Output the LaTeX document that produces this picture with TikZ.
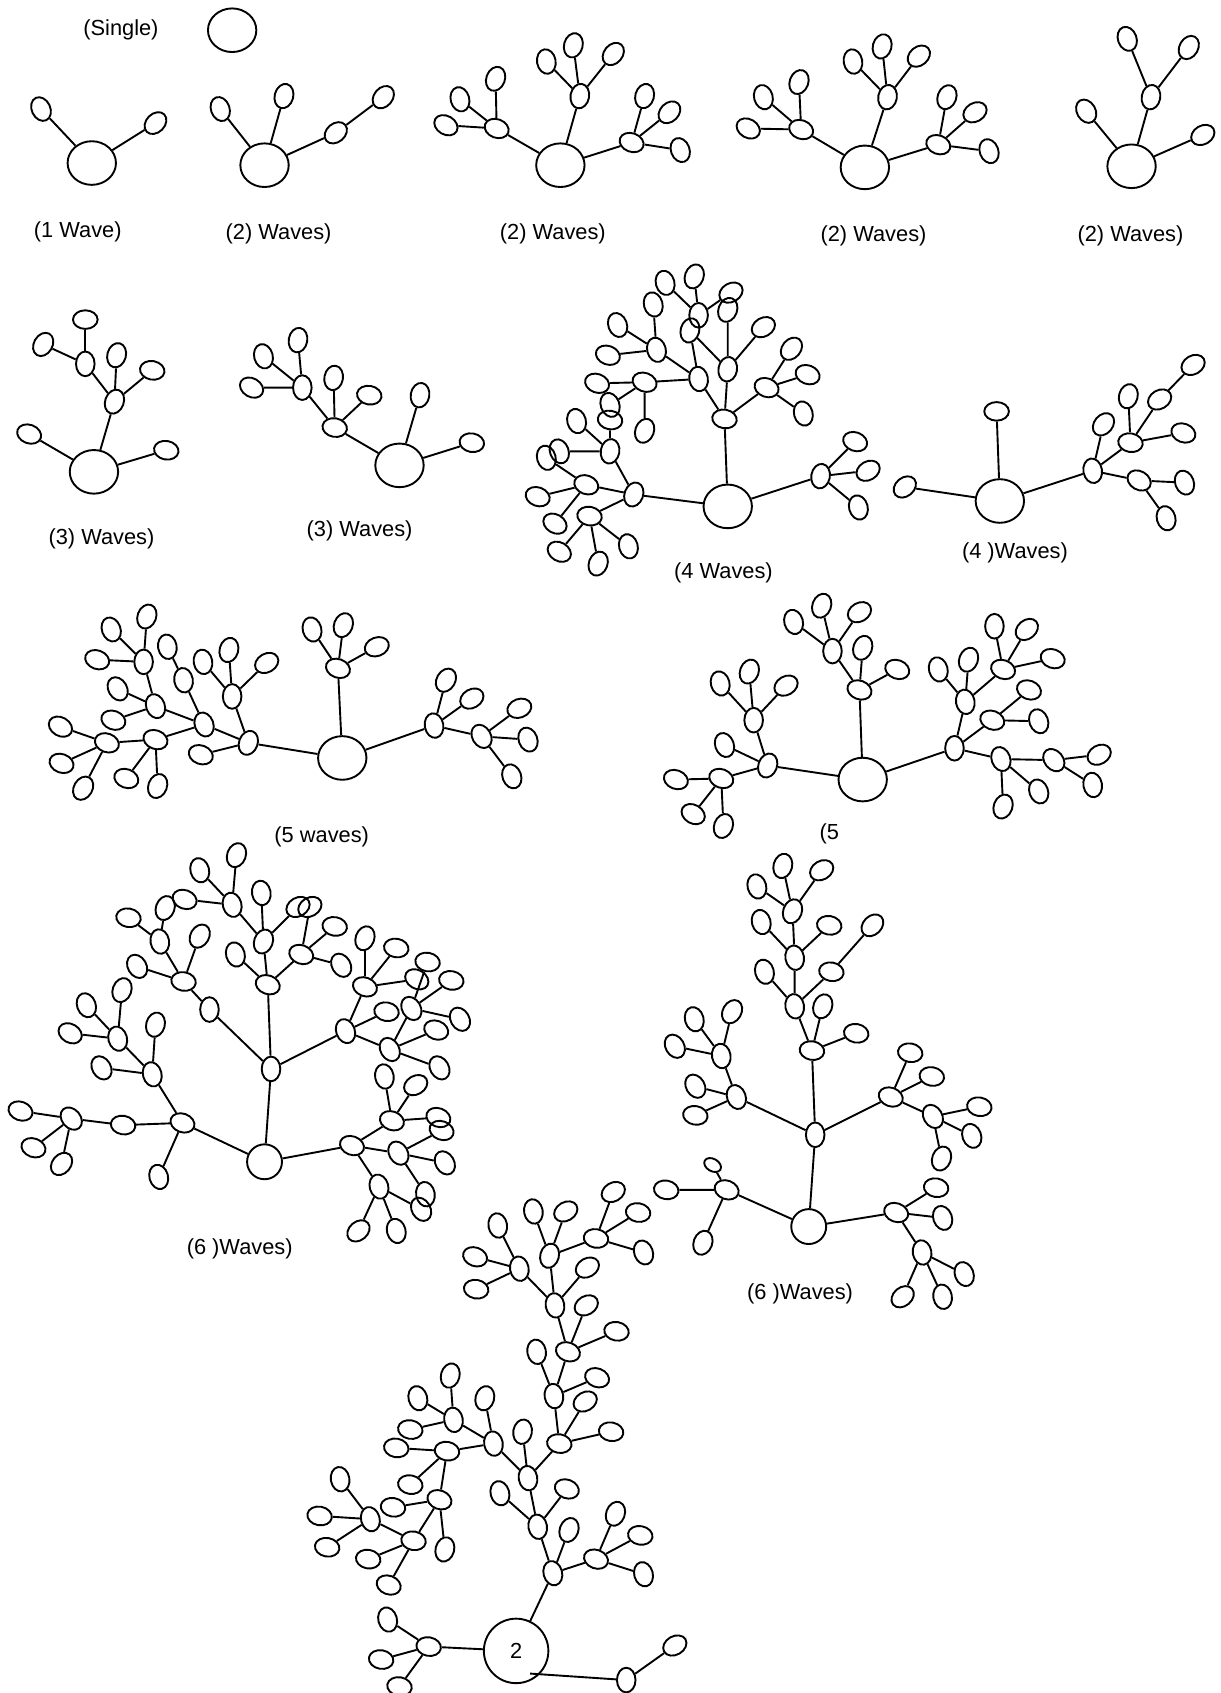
\documentclass[tikz,border=0pt]{standalone}
\usepackage{fontspec}
\setmainfont{Liberation Sans}
\usetikzlibrary{shapes.geometric}
\begin{document}
\begin{tikzpicture}[x=0.02cm,y=-0.02cm,line width=1pt,
  leaf/.style={draw,ellipse,inner sep=0pt,minimum width=9.8pt,minimum height=13pt},
  tiny/.style={draw,ellipse,inner sep=0pt,minimum width=6.5pt,minimum height=9.5pt},
  root/.style={draw,ellipse,inner sep=0pt,minimum width=25.5pt,minimum height=23pt},
  sroot/.style={draw,circle,inner sep=0pt,minimum size=18.4pt},
  broot/.style={draw,circle,inner sep=0pt,minimum size=34pt,font=\fontsize{11.5}{13}\selectfont},
  lbl/.style={font=\fontsize{11.5}{13}\selectfont}]
\useasboundingbox (0,0) rectangle (1130,1568);

% labels
\node[lbl] (txts) at (112,28) {(Single)};
\node[lbl] (txta) at (72,215) {(1 Wave)};
\node[lbl] (txtb) at (258,217) {(2) Waves)};
\node[lbl] (txtc) at (512,217) {(2) Waves)};
\node[lbl] (txtd) at (809,218) {(2) Waves)};
\node[lbl] (txte) at (1047,218) {(2) Waves)};
\node[lbl] (txtf) at (94,499) {(3) Waves)};
\node[lbl] (txtg) at (333,492) {(3) Waves)};
\node[lbl] (txth) at (670,531) {(4 Waves)};
\node[lbl] (txti) at (940,512) {(4 )Waves)};
\node[lbl] (txtj) at (298,775) {(5 waves)};
\node[lbl] (txtk) at (768,772) {(5};
\node[lbl] (txtl) at (222,1157) {(6 )Waves)};
\node[lbl] (txtm) at (741,1198) {(6 )Waves)};

% roots
\node[root] (sr) at (215,28) {};
\node[root] (ar) at (85,151) {};
\node[root] (br) at (245,153) {};
\node[root] (cr) at (519,153) {};
\node[root] (dr) at (801,155) {};
\node[root] (er) at (1048,154) {};
\node[root] (fr) at (87,437) {};
\node[root] (gr) at (370,431) {};
\node[root] (hr) at (674,469) {};
\node[root] (ir) at (926,464) {};
\node[root] (jr) at (317,702) {};
\node[root] (kr) at (799,722) {};
\node[sroot] (lr) at (245,1076) {};
\node[sroot] (mr) at (749,1136) {};
\node[broot] (nr) at (478,1529) {2};
\coordinate (nrin) at (491,1550);

% 1 and 2 waves
\foreach \n/\x/\y/\r in {a1/38/101/25, a2/144/114/-45,
  b1/204/101/20, b2/263/89/-15, b3/311/123/-50, b4/355/90/-40,
  c1/460/119/70, c1a/459/73/-20, c1b/426/92/15, c1c/413/116/60, c2/537/89/-10, c2a/506/57/10,
  c2b/531/42/-15, c2c/568/50/-40, c3/585/132/70, c3a/597/89/-15, c3b/620/104/-45, c3c/630/139/20,
  d1/742/120/70, d1a/740/76/-20, d1b/707/90/15, d1c/693/119/60, d2/822/90/-10, d2a/790/57/10,
  d2b/817/43/-15, d2c/851/52/-50, d3/869/134/70, d3a/877/90/-20, d3b/903/104/-60, d3c/916/140/20,
  e1/1006/103/30, e2/1066/90/-10, e2a/1044/36/20, e2b/1101/44/-30, e3/1114/125/-60}
  \node[leaf,rotate=\r] (\n) at (\x,\y) {};
\foreach \p/\c in {ar/a1, ar/a2, br/b1, br/b2, br/b3, b3/b4,
  cr/c1, c1/c1a, c1/c1b, c1/c1c, cr/c2, c2/c2a, c2/c2b, c2/c2c, cr/c3, c3/c3a, c3/c3b, c3/c3c,
  dr/d1, d1/d1a, d1/d1b, d1/d1c, dr/d2, d2/d2a, d2/d2b, d2/d2c, dr/d3, d3/d3a, d3/d3b, d3/d3c,
  er/e1, er/e2, e2/e2a, e2/e2b, er/e3}
  \draw (\p) -- (\c);

% 3 and 4 waves
\foreach \n/\x/\y/\r in {f1/27/402/70, f2/154/417/80, f3/106/372/-20, f3a/108/329/-15, f3b/141/343/80,
  f4/79/337/0, f4a/79/296/90, f4b/40/319/-30,
  g1/389/366/-10, g2/437/410/80, g3/310/396/80, g3a/309/350/-10, g3b/342/366/80,
  g4/280/359/0, g4a/276/315/-10, g4b/244/330/15, g4c/233/359/60,
  h1/760/441/-10, h1a/792/409/70, h1b/804/436/-60, h1c/795/470/15,
  h2/671/388/80, h3/710/359/70, h3a/733/323/-40, h3b/748/347/70, h3c/744/383/15,
  h4/674/342/-10, h4a/707/303/-60, h4b/674/287/-20, h5/647/351/10, h6/639/306/-15,
  h7/647/292/0, h7a/616/262/15, h7b/643/256/-20, h7c/677/271/-60,
  h8/608/324/15, h8a/605/282/15, h8b/572/301/20, h8c/563/329/70,
  h9/597/354/70, h9a/553/355/70, h9b/565/375/20, h9d/597/399/-20,
  h10/587/458/-20, h11/565/418/-10, h11a/565/389/80, h11b/534/390/15, h11c/518/418/20,
  h12/543/449/70, h12a/498/460/70, h12b/514/485/60, h12c/506/424/15,
  h13/546/478/80, h13a/518/511/60, h13b/554/522/-20, h13c/582/506/15,
  i1/838/451/-50, i2/923/381/90, i3/1012/436/10, i3a/1022/393/-40, i4/1047/410/80,
  i4a/1045/367/-15, i4b/1096/401/70, i5/1074/370/-60, i5a/1105/338/-60,
  i6/1055/445/60, i6a/1097/447/20, i6b/1080/480/15}
  \node[leaf,rotate=\r] (\n) at (\x,\y) {};
\foreach \p/\c in {fr/f1, fr/f2, fr/f3, f3/f3a, f3/f3b, f3/f4, f4/f4a, f4/f4b,
  gr/g1, gr/g2, gr/g3, g3/g3a, g3/g3b, g3/g4, g4/g4a, g4/g4b, g4/g4c,
  hr/h1, h1/h1a, h1/h1b, h1/h1c, hr/h2, h2/h3, h2/h4, h2/h5, h3/h3a, h3/h3b, h3/h3c,
  h4/h4a, h4/h4b, h4/h6, h5/h6, h5/h8, h5/h9, h7/h7a, h7/h7b, h7/h7c,
  h8/h8a, h8/h8b, h8/h8c, h9/h9a, h9/h9b, h9/h9d, hr/h10, h10/h11, h10/h12, h10/h13,
  h11/h11a, h11/h11b, h11/h11c, h12/h12a, h12/h12b, h12/h12c, h13/h13a, h13/h13b, h13/h13c,
  ir/i1, ir/i2, ir/i3, i3/i3a, i3/i4, i3/i6, i4/i4a, i4/i5, i4/i4b, i5/i5a, i6/i6a, i6/i6b}
  \draw (\p) -- (\c);

% 5 waves
\foreach \n/\x/\y/\r in {j1/313/619/70, j1a/289/583/15, j1b/318/579/-20, j1c/349/599/-70,
  j2/402/672/10, j2a/413/630/-30, j2b/437/647/-60, j3/446/682/30, j3a/481/656/-70, j3b/489/685/20, j3c/474/719/20,
  j4/230/688/-20, j4a/186/699/70, j5/215/645/0, j5a/212/602/-15, j5b/247/614/-60, j5c/188/613/10,
  j6/189/671/20, j7/170/630/10, j7a/155/599/10, j8/144/654/20, j8a/109/638/30, j8b/105/667/70,
  j9/133/613/0, j9a/103/583/20, j9b/136/571/-20, j9c/90/611/70,
  j10/144/685/70, j10a/117/721/70, j10b/146/728/-20, j11/99/688/70, j11a/56/673/60, j11b/57/707/70, j11c/77/730/-30,
  k1/796/639/70, k1a/799/600/-20, k1b/831/620/70, k2/771/603/0, k2a/735/576/15, k2b/761/561/-20, k2c/796/567/-60,
  k3/711/709/-20, k3a/671/690/20, k4/698/667/0, k4a/667/633/15, k4b/694/622/-20, k4c/728/635/-60,
  k5/668/721/70, k5a/626/722/70, k5b/642/754/60, k5c/670/765/-20,
  k6/884/693/0, k7/894/650/10, k7a/869/620/15, k7b/897/611/-20,
  k8/929/620/70, k8a/921/580/0, k8b/951/583/-50, k8c/975/610/70,
  k9/919/667/70, k9a/953/639/70, k9b/962/668/20, k10/927/703/20, k10a/929/747/-20, k10b/962/733/20,
  k11/976/704/40, k11a/1018/699/-60, k11b/1012/727/10}
  \node[leaf,rotate=\r] (\n) at (\x,\y) {};
\foreach \p/\c in {jr/j1, j1/j1a, j1/j1b, j1/j1c, jr/j2, j2/j2a, j2/j2b, j2/j3, j3/j3a, j3/j3b, j3/j3c,
  jr/j4, j4/j4a, j4/j5, j4/j6, j5/j5a, j5/j5b, j5/j5c, j6/j7, j7/j7a, j6/j8, j8/j8a, j8/j8b, j8/j9,
  j9/j9a, j9/j9b, j9/j9c, j6/j10, j10/j10a, j10/j10b, j10/j11, j11/j11a, j11/j11b, j11/j11c,
  kr/k1, k1/k1a, k1/k1b, k1/k2, k2/k2a, k2/k2b, k2/k2c, kr/k3, k3/k3a, k3/k4, k3/k5,
  k4/k4a, k4/k4b, k4/k4c, k5/k5a, k5/k5b, k5/k5c, kr/k6, k6/k7, k6/k9, k6/k10,
  k7/k7a, k7/k7b, k7/k8, k8/k8a, k8/k8b, k8/k8c, k9/k9a, k9/k9b, k10/k10a, k10/k10b, k10/k11, k11/k11a, k11/k11b}
  \draw (\p) -- (\c);

% 6 waves
\foreach \n/\x/\y/\r in {l1/251/990/0, l2/248/912/70, l3/244/872/-20, l3a/242/827/10, l3b/276/840/-60,
  l4/215/838/15, l4a/219/792/-20, l4b/185/806/15, l4c/171/833/70, l2a/218/884/15,
  l5/279/884/70, l5a/310/858/80, l5b/316/894/30, l5c/287/840/-60,
  l6/194/935/0, l7/170/909/80, l7a/127/895/30, l7b/185/867/-30, l8/148/872/10, l8a/119/850/80, l8b/153/841/-20,
  l9/320/955/20, l9a/358/937/80, l10/338/914/70, l10a/338/869/-20, l10b/367/878/80, l10c/386/907/60,
  l11/381/934/30, l11a/396/891/80, l11b/418/908/80, l11c/426/944/30, l12/361/972/30, l12a/404/954/70, l12b/407/989/30,
  l13/326/1061/70, l14/363/1038/70, l14a/356/997/10, l14b/385/1005/-60, l14c/406/1035/70,
  l15/369/1068/30, l15a/409/1047/70, l15b/412/1077/30, l15c/394/1106/10,
  l16/351/1099/15, l16a/390/1120/30, l16b/367/1140/15, l16c/332/1140/-50,
  l17/169/1040/70, l17a/147/1090/15, l18/141/995/15, l18a/144/949/-15, l18b/94/989/30,
  l19/109/962/15, l19a/80/931/20, l19b/113/917/-20, l19c/65/957/60,
  l20/114/1042/80, l21/66/1036/40, l21a/19/1029/70, l21b/31/1063/70, l21c/57/1078/-40,
  m1/755/1051/0, m2/752/973/80, m2a/762/932/-20, m2b/793/957/80, m3/736/932/10, m3a/708/900/15,
  m3b/770/900/80, m3c/808/857/-45, m4/736/887/10, m4a/705/854/15, m4b/768/857/80,
  m5/734/844/-20, m5a/725/802/-15, m5b/701/821/15, m5c/761/806/-60,
  m6/682/1016/20, m6a/644/1006/30, m6b/644/1033/80, m7/668/978/10, m7a/643/944/15, m7b/678/937/-30, m7c/625/969/30,
  m8/825/1016/70, m8a/843/975/80, m8b/863/997/80, m9/864/1034/30, m9a/907/1025/80, m9b/900/1052/20, m9c/872/1073/-20,
  m10/830/1123/70, m10a/867/1100/80, m10b/873/1128/20, m11/854/1160/10, m11a/893/1180/20, m11b/836/1201/-50, m11c/873/1201/10,
  m12/673/1102/70, m12b/617/1102/80, m12c/651/1151/-20}
  \node[leaf,rotate=\r] (\n) at (\x,\y) {};
\node[tiny,rotate=60] (m12a) at (660,1079) {};
\foreach \p/\c in {lr/l1, l1/l2, l2/l3, l3/l3a, l3/l3b, l3/l4, l4/l4a, l4/l4b, l4/l4c, l2/l2a,
  l2/l5, l5/l5a, l5/l5b, l5/l5c, l1/l6, l6/l7, l7/l7a, l7/l7b, l7/l8, l8/l8a, l8/l8b,
  l1/l9, l9/l10, l10/l10a, l10/l10b, l10/l10c, l9/l9a, l9/l12, l12/l11, l11/l11a, l11/l11b, l11/l11c,
  l12/l12a, l12/l12b, lr/l13, l13/l14, l14/l14a, l14/l14b, l14/l14c, l13/l15, l15/l15a, l15/l15b, l15/l15c,
  l13/l16, l16/l16a, l16/l16b, l16/l16c, lr/l17, l17/l17a, l17/l18, l18/l18a, l18/l18b, l18/l19,
  l19/l19a, l19/l19b, l19/l19c, l17/l20, l20/l21, l21/l21a, l21/l21b, l21/l21c,
  mr/m1, m1/m2, m2/m2a, m2/m2b, m2/m3, m3/m3a, m3/m3b, m3b/m3c, m3/m4, m4/m4a, m4/m4b, m4/m5,
  m5/m5a, m5/m5b, m5/m5c, m1/m6, m6/m6a, m6/m6b, m6/m7, m7/m7a, m7/m7b, m7/m7c,
  m1/m8, m8/m8a, m8/m8b, m8/m9, m9/m9a, m9/m9b, m9/m9c, mr/m10, m10/m10a, m10/m10b, m10/m11,
  m11/m11a, m11/m11b, m11/m11c, mr/m12, m12/m12a, m12/m12b, m12/m12c}
  \draw (\p) -- (\c);

% big tree
\foreach \n/\x/\y/\r in {n1/512/1457/15, n1a/527/1417/-20, n2/552/1444/70, n2a/570/1402/-20, n2b/593/1422/80, n2c/596/1458/15,
  n3/498/1414/10, n3a/463/1383/15, n3b/525/1379/70, n4/489/1369/10, n4a/484/1326/-10,
  na/518/1337/80, na1/566/1326/80, na2/542/1298/-60, nc/513/1293/10, nc1/553/1276/70, nc2/497/1252/10,
  nd/526/1252/70, nd1/543/1209/-60, nd2/571/1233/80, ne/514/1209/10, ne1/544/1174/-60,
  nf/509/1163/-15, nf1/494/1122/10, nf2/524/1122/-60, ng/552/1147/80, ng1/568/1104/-60, ng2/591/1123/80, ng3/596/1160/20,
  nh/481/1175/10, nh1/461/1135/10, nh2/440/1164/70, nh3/441/1194/80,
  nb/457/1337/10, nb1/449/1295/-15, np/420/1315/10, np1/417/1274/-15, np2/387/1295/15, np3/380/1324/80,
  nq/414/1344/80, nq1/367/1341/80, nq2/380/1375/80, ni/407/1389/70, ni1/364/1396/80, ni2/412/1435/-15,
  nj/383/1427/80, nj1/341/1444/80, nj2/360/1468/70, nk/343/1407/15, nk1/315/1370/10, nk2/296/1404/80, nk3/303/1433/80,
  nl/397/1525/80, nl1/359/1500/15, nl2/353/1537/80, nl3/370/1562/80, nm/580/1556/0, nm1/625/1524/-60}
  \node[leaf,rotate=\r] (\n) at (\x,\y) {};
\foreach \p/\c in {nr/n1, n1/n1a, n1/n2, n2/n2a, n2/n2b, n2/n2c, n1/n3, n3/n3a, n3/n3b, n3/n4, n4/n4a,
  n4/na, n4/nb, na/na1, na/na2, na/nc, nc/nc1, nc/nc2, nc/nd, nd/nd1, nd/nd2, nd/ne, ne/ne1, ne/nf, ne/nh,
  nf/nf1, nf/nf2, nf/ng, ng/ng1, ng/ng2, ng/ng3, nh/nh1, nh/nh2, nh/nh3, nb/nb1, nb/np, nb/nq,
  np/np1, np/np2, np/np3, nq/nq1, nq/nq2, nq/ni, ni/ni1, ni/ni2, ni/nj, nj/nj1, nj/nj2, nj/nk,
  nk/nk1, nk/nk2, nk/nk3, nr/nl, nl/nl1, nl/nl2, nl/nl3, nm/nm1}
  \draw (\p) -- (\c);
\draw (nm) -- (nrin);
\end{tikzpicture}
\end{document}
